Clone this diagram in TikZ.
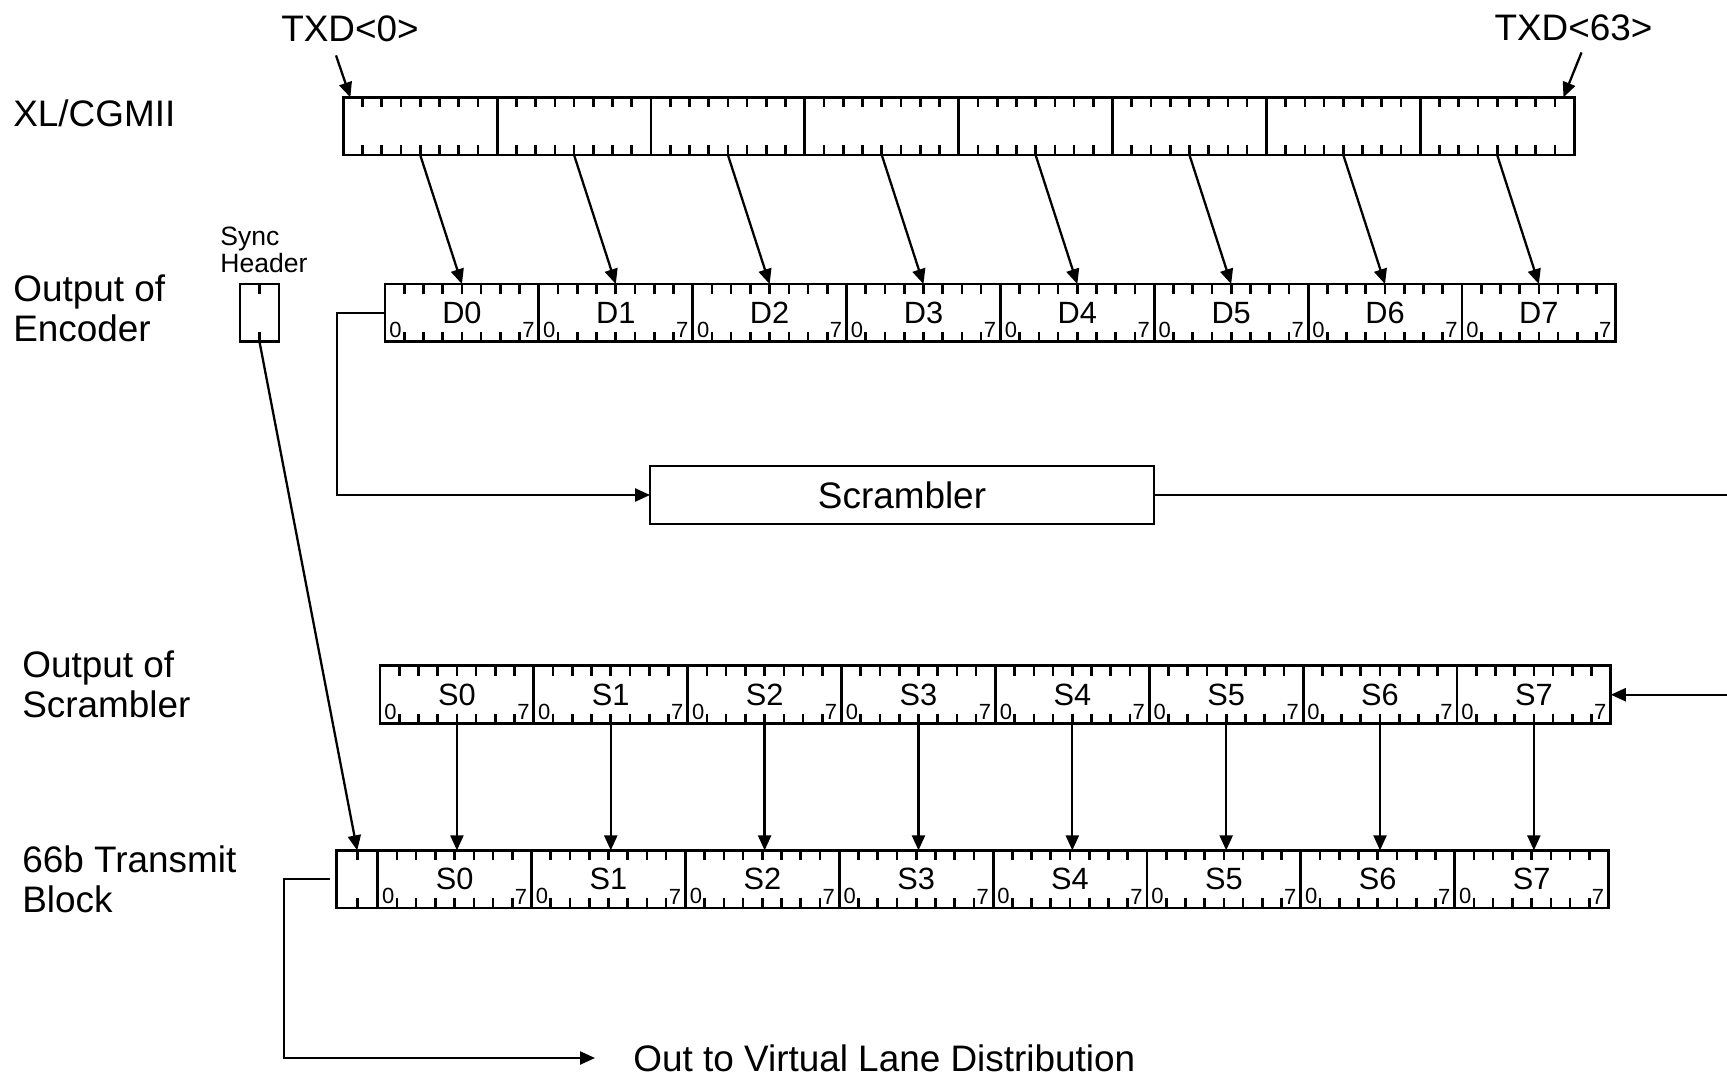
\documentclass[tikz,border=0pt]{standalone}
\usepackage{fontspec}
\setmainfont{Liberation Sans}
\usetikzlibrary{arrows.meta,calc}

\tikzset{
  bytebox/.style={draw, line width=1.6pt, minimum width=3.077cm, minimum height=1.154cm,
    inner sep=0pt, outer sep=0pt, font=\fontsize{17.5}{19}\selectfont},
  syncbox/.style={bytebox, minimum width=0.8cm},
  tick/.style={line width=1.5pt},
  arr/.style={line width=1.3pt, -{Triangle[length=0.3cm,width=0.26cm]}},
  rowlabel/.style={anchor=west, align=left, inner sep=0pt, font=\fontsize{21}{22.8}\selectfont},
  biglabel/.style={inner sep=0pt, font=\fontsize{21}{22.8}\selectfont},
  bitnum/.style={inner sep=0pt, font=\fontsize{12.5}{13}\selectfont},
}

% seven bit ticks on top and bottom of a byte
\newcommand{\byteticks}[1]{%
  \foreach \k in {1,...,7} {%
    \draw[tick] ($(#1.north west)!\k/8!(#1.north east)$) -- ++(0,10);
    \draw[tick] ($(#1.south west)!\k/8!(#1.south east)$) -- ++(0,-10);
  }}

\begin{document}
\begin{tikzpicture}[x=0.02cm, y=-0.02cm]
  \useasboundingbox (0,0) rectangle (1727,1078);

  \def\bw{153.85};

  % row labels
  \node[rowlabel] (lblx) at (13,113.5) {XL/CGMII};
  \node[rowlabel] (lble) at (13,308.3) {Output of\\Encoder};
  \node[rowlabel] (lbls) at (22,684.5) {Output of\\Scrambler};
  \node[rowlabel] (lblt) at (22,879.5) {66b Transmit\\Block};
  \node[anchor=west, align=left, inner sep=0pt, font=\fontsize{15.1}{15.6}\selectfont]
    (lblsh) at (220,250) {Sync\\Header};

  % byte rows
  \foreach \i in {0,...,7} {
    \node[bytebox] (x\i) at ({343.3+(\i+0.5)*\bw},126.2) {};
    \node[bytebox] (d\i) at ({385+(\i+0.5)*\bw},312.9) {D\i};
    \node[bytebox] (s\i) at ({380+(\i+0.5)*\bw},694.7) {S\i};
    \node[bytebox] (t\i) at ({377.7+(\i+0.5)*\bw},879.2) {S\i};
  }

  % sync header fields
  \node[syncbox, minimum width=0.78cm] (sh) at (259.5,312.9) {};
  \node[syncbox, minimum width=0.82cm] (th) at (357.2,879.2) {};

  % bit ticks
  \foreach \r in {x,d,s,t} {
    \foreach \i in {0,...,7} {\byteticks{\r\i}}
  }
  \foreach \n in {sh,th} {
    \draw[tick] (\n.north) -- ++(0,10);
    \draw[tick] (\n.south) -- ++(0,-10);
  }

  % bit numbers
  \foreach \r in {d,s,t} {
    \foreach \i in {0,...,7} {
      \node[bitnum, anchor=south west] (\r\i lo) at ($(\r\i.south west)+(4,-3.5)$) {0};
      \node[bitnum, anchor=south east] (\r\i hi) at ($(\r\i.south east)+(-4,-3.5)$) {7};
    }
  }

  % TXD markers
  \node[biglabel] (txd0) at (350,29) {TXD<0>};
  \node[biglabel] (txd63) at (1573.5,28) {TXD<63>};
  \coordinate (txd0from) at ($(txd0.south)+(-14,13)$);
  \coordinate (txd63from) at ($(txd63.south)+(8,11)$);
  \draw[arr] (txd0from) -- ($(x0.north west)+(7,0)$);
  \draw[arr] (txd63from) -- ($(x7.north east)+(-10.6,0)$);

  % encoder
  \foreach \i in {0,...,7} \draw[arr] (x\i.south) -- (d\i.north);

  % scrambler
  \node[bytebox, minimum width=10.08cm, minimum height=1.16cm, font=\fontsize{21}{22.8}\selectfont]
    (scr) at (902,495) {Scrambler};
  \draw[arr] (d0.west) -- ++(-48.3,0) |- (scr.west);
  \draw[arr] (scr.east) -- ++(590,0) |- (s7.east);

  % 66b block
  \foreach \i in {0,...,7} \draw[arr] (s\i.south) -- (s\i.south |- t\i.north);
  \draw[arr] (sh.south) -- (th.north);

  % out
  \node[biglabel, anchor=west] (out) at (633,1058) {Out to Virtual Lane Distribution};
  \draw[arr, shorten <=0.14cm, shorten >=0.76cm] (th.west) -- ++(-53,0) |- (out.west);
\end{tikzpicture}
\end{document}
